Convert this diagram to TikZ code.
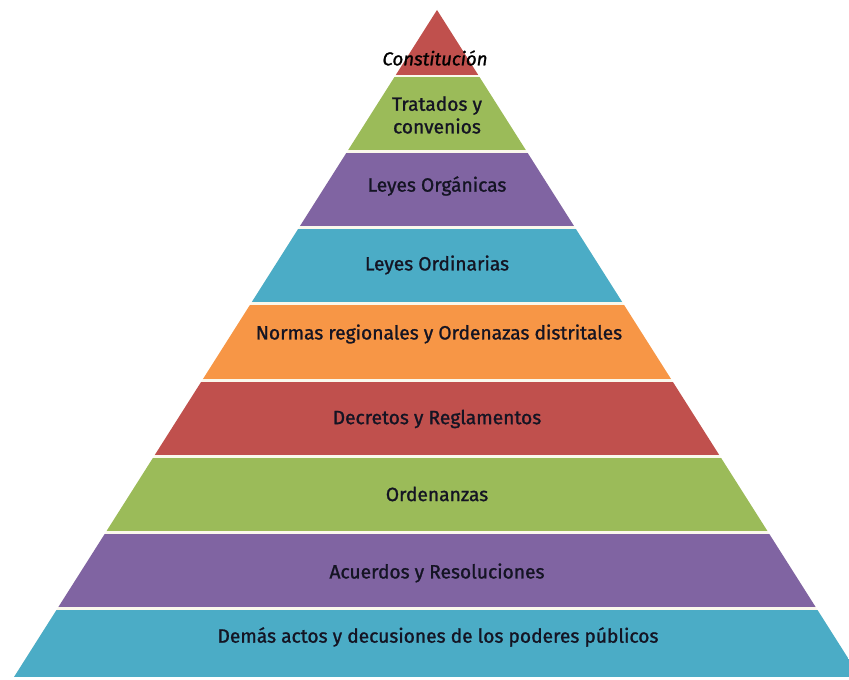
\documentclass[tikz,border=0pt]{standalone}
\usepackage{fontspec}
\setmainfont{Fira Sans}
\newfontfamily\levelfont{Fira Sans}[FakeBold=1.2]
\usepackage{tikz}
\usetikzlibrary{positioning}
\definecolor{levelred}{RGB}{192,80,77}
\definecolor{levelgreen}{RGB}{155,187,89}
\definecolor{levelpurple}{RGB}{128,100,162}
\definecolor{levelblue}{RGB}{75,172,198}
\definecolor{levelorange}{RGB}{247,150,70}
\definecolor{gapcream}{RGB}{250,248,236}
\definecolor{labelink}{RGB}{20,20,35}
\tikzset{
  level/.style={font=\levelfont\fontsize{14.4}{17}\selectfont, text=labelink, align=center},
}

\begin{document}
\begin{tikzpicture}[x=0.75pt, y=-0.75pt]
\useasboundingbox (0,0) rectangle (849,680);
\clip (0,0) rectangle (849,680);

% piramide
\begin{scope}
\clip (437,10) -- (860,677) -- (14,677) -- cycle;
\fill[gapcream] (0,0) rectangle (860,677);
\fill[levelred] (0,0) rectangle (860,75);
\fill[levelgreen] (0,77) rectangle (860,150);
\fill[levelpurple] (0,153) rectangle (860,226);
\fill[levelblue] (0,229) rectangle (860,302);
\fill[levelorange] (0,305) rectangle (860,379);
\fill[levelred] (0,382) rectangle (860,455);
\fill[levelgreen] (0,458) rectangle (860,531);
\fill[levelpurple] (0,534) rectangle (860,607);
\fill[levelblue] (0,610) rectangle (860,677);
\end{scope}

% niveles
\node[level, text=black, font=\levelfont\fontsize{14}{17}\selectfont\itshape] (const) at (435,58) {Constitución};
\node[level] (tratados) at (437,115) {Tratados y\\convenios};
\node[level] (organicas) at (437,186) {Leyes Orgánicas};
\node[level] (ordinarias) at (437,265) {Leyes Ordinarias};
\node[level] (normas) at (439,334) {Normas regionales y Ordenazas distritales};
\node[level] (decretos) at (437,419) {Decretos y Reglamentos};
\node[level] (ordenanzas) at (437,494) {Ordenanzas};
\node[level] (acuerdos) at (437,573) {Acuerdos y Resoluciones};
\node[level] (demas) at (438,637) {Demás actos y decusiones de los poderes públicos};

\end{tikzpicture}
\end{document}
